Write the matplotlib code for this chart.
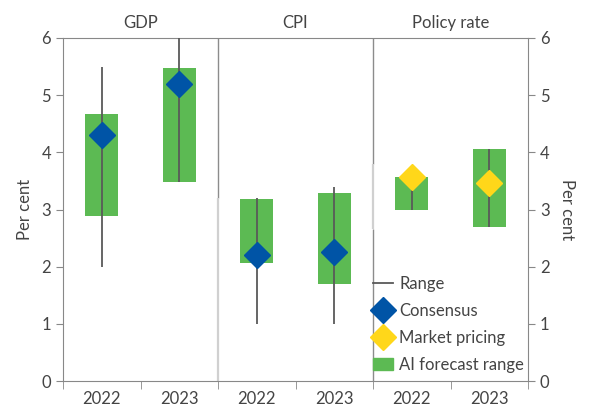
import numpy as np
import matplotlib.pyplot as plt
from matplotlib.lines import Line2D
from matplotlib.patches import Patch

plt.rcParams['font.family'] = ['Lato', 'DejaVu Sans']

panels = ['GDP', 'CPI', 'Policy rate']
years = ['2022', '2023', '2022', '2023', '2022', '2023']
range_lo = [2.0, 3.48, 1.0, 1.0, 3.0, 2.7]
range_hi = [5.5, 6.0, 3.2, 3.4, 3.67, 4.05]
ai_lo = [2.88, 3.48, 2.07, 1.7, 3.0, 2.7]
ai_hi = [4.67, 5.47, 3.18, 3.28, 3.57, 4.05]
consensus = [4.3, 5.2, 2.2, 2.25, np.nan, np.nan]
market = [np.nan, np.nan, np.nan, np.nan, 3.57, 3.47]

green = '#5cba53'
blue = '#0054a6'
yellow = '#ffd71a'
grey = '#595959'
txt = '#444444'

fig = plt.figure(figsize=(6.01, 4.13), dpi=100)
ax = fig.add_axes([63/601, 1 - 381/413, 465/601, 343/413])

x = np.arange(len(years))
ax.bar(x, np.array(ai_hi) - np.array(ai_lo), bottom=ai_lo, width=0.42,
       color=green, zorder=2)
ax.vlines(x, range_lo, range_hi, color=grey, lw=1.3, zorder=3)
ax.plot(x, consensus, 'D', color=blue, ms=13, zorder=4)
ax.plot(x, market, 'D', color=yellow, ms=13, zorder=4)

# panel separators (the original has a faded middle piece)
ax.vlines(1.5, 3.2, 6, color='#8c8c8c', lw=1, zorder=1)
ax.vlines(1.5, 0, 3.2, color='#d0d0d0', lw=1.6, zorder=1)
ax.vlines(3.5, 3.8, 6, color='#8c8c8c', lw=1, zorder=1)
ax.vlines(3.5, 2.66, 3.8, color='#d0d0d0', lw=1.6, zorder=1)
ax.vlines(3.5, 0, 2.66, color='#8c8c8c', lw=1, zorder=1)

ax.set_xlim(-0.5, 5.5)
ax.set_ylim(0, 6)
ax.set_xticks(x)
ax.set_xticklabels(years)
ax.set_xticks(np.arange(-0.5, 6, 1), minor=True)
ax.tick_params(axis='x', which='major', length=0, pad=7, labelsize=12, colors=txt)
ax.tick_params(axis='x', which='minor', length=6, color='#888888')
ax.set_yticks(range(7))
ax.tick_params(axis='y', length=5, labelsize=12, colors=txt, color='#888888',
               labelleft=True, labelright=True, left=True, right=True)
for s in ax.spines.values():
    s.set_color('#888888')
ax.set_ylabel('Per cent', fontsize=12, color=txt, labelpad=6)
ax2 = ax.secondary_yaxis('right')
ax2.set_yticks([])
ax2.spines['right'].set_visible(False)
ax2.set_ylabel('Per cent', fontsize=12, color=txt, rotation=270, labelpad=34)

for i, p in enumerate(panels):
    ax.text(2 * i + 0.5, 6.12, p, ha='center', va='bottom', fontsize=12, color=txt)

handles = [Line2D([], [], color=grey, lw=1.3),
           Line2D([], [], marker='D', color=blue, ls='', ms=13),
           Line2D([], [], marker='D', color=yellow, ls='', ms=13),
           Patch(color=green)]
labels = ['Range', 'Consensus', 'Market pricing', 'AI forecast range']
ax.legend(handles, labels, loc='lower right', frameon=False, fontsize=12,
          labelcolor=txt, handlelength=1.2, handletextpad=0.4, labelspacing=0.65,
          borderaxespad=0.1, bbox_to_anchor=(1.01, 0.0))

fig.savefig('out.png', dpi=100)
